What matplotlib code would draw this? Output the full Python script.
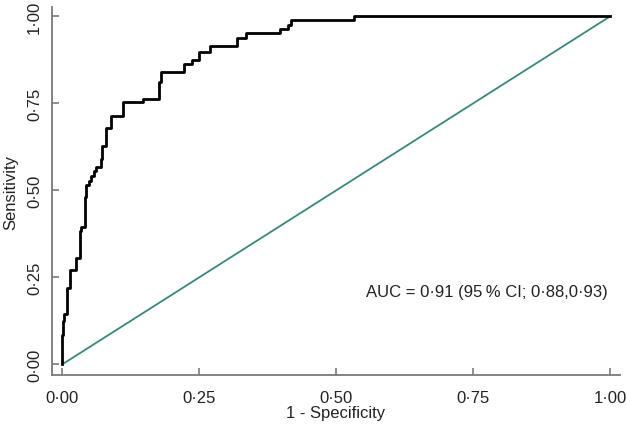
import matplotlib
matplotlib.use("Agg")
import matplotlib.pyplot as plt

plt.rcParams['font.family'] = ['Liberation Sans', 'DejaVu Sans']

# ROC step points (1 - specificity, sensitivity): level of each horizontal run ending at fpr
fpr = [0.0, 0.001, 0.004, 0.009, 0.014, 0.025, 0.032, 0.035, 0.041, 0.044, 0.049,
       0.053, 0.057, 0.061, 0.070, 0.073, 0.080, 0.088, 0.110, 0.147, 0.177, 0.180,
       0.222, 0.236, 0.250, 0.270, 0.319, 0.335, 0.397, 0.412, 0.417, 0.532, 1.0]
tpr = [0.0, 0.084, 0.124, 0.145, 0.219, 0.271, 0.305, 0.383, 0.394, 0.480, 0.515,
       0.527, 0.541, 0.555, 0.567, 0.590, 0.627, 0.679, 0.715, 0.753, 0.764, 0.811,
       0.839, 0.863, 0.875, 0.899, 0.914, 0.937, 0.952, 0.963, 0.976, 0.989, 1.0]
ref_x = [0.0, 1.0]
ref_y = [0.0, 1.0]
ticks = [0.0, 0.25, 0.5, 0.75, 1.0]
tick_labels = ["0\u00b700", "0\u00b725", "0\u00b750", "0\u00b775", "1\u00b700"]
auc_text = "AUC = 0\u00b791 (95\u2009% CI; 0\u00b788,0\u00b793)"

fig = plt.figure(figsize=(6.28, 4.27), dpi=100)
ax = fig.add_axes([0.0828, 0.1194, 0.9042, 0.8616])

ax.plot(ref_x, ref_y, color="#3a877b", lw=1.3, zorder=2)
ax.plot(fpr, tpr, drawstyle="steps-pre", color="black", lw=2.0, zorder=3)

ax.set_xlim(-0.0188, 1.0178)
ax.set_ylim(-0.0307, 1.0267)

for s in ["top", "right"]:
    ax.spines[s].set_visible(False)
for s in ["left", "bottom"]:
    ax.spines[s].set_color("#7a7a7a")
    ax.spines[s].set_linewidth(1.3)

ax.set_xticks(ticks)
ax.set_xticklabels(tick_labels)
ax.set_yticks(ticks)
ax.set_yticklabels(tick_labels, rotation=90, va="center")
ax.tick_params(axis="both", direction="in", length=5, width=1.2, color="#7a7a7a",
               labelsize=12, labelcolor="#222222")
ax.tick_params(axis="x", pad=11)
ax.tick_params(axis="y", pad=7.2)

ax.set_xlabel("1 - Specificity", fontsize=12, color="#222222", labelpad=0)
ax.set_ylabel("Sensitivity", fontsize=12, color="#222222", labelpad=6)

ax.text(0.995, 0.208, auc_text, ha="right", va="center", fontsize=12, color="#222222")

fig.savefig("out.png", dpi=100)
